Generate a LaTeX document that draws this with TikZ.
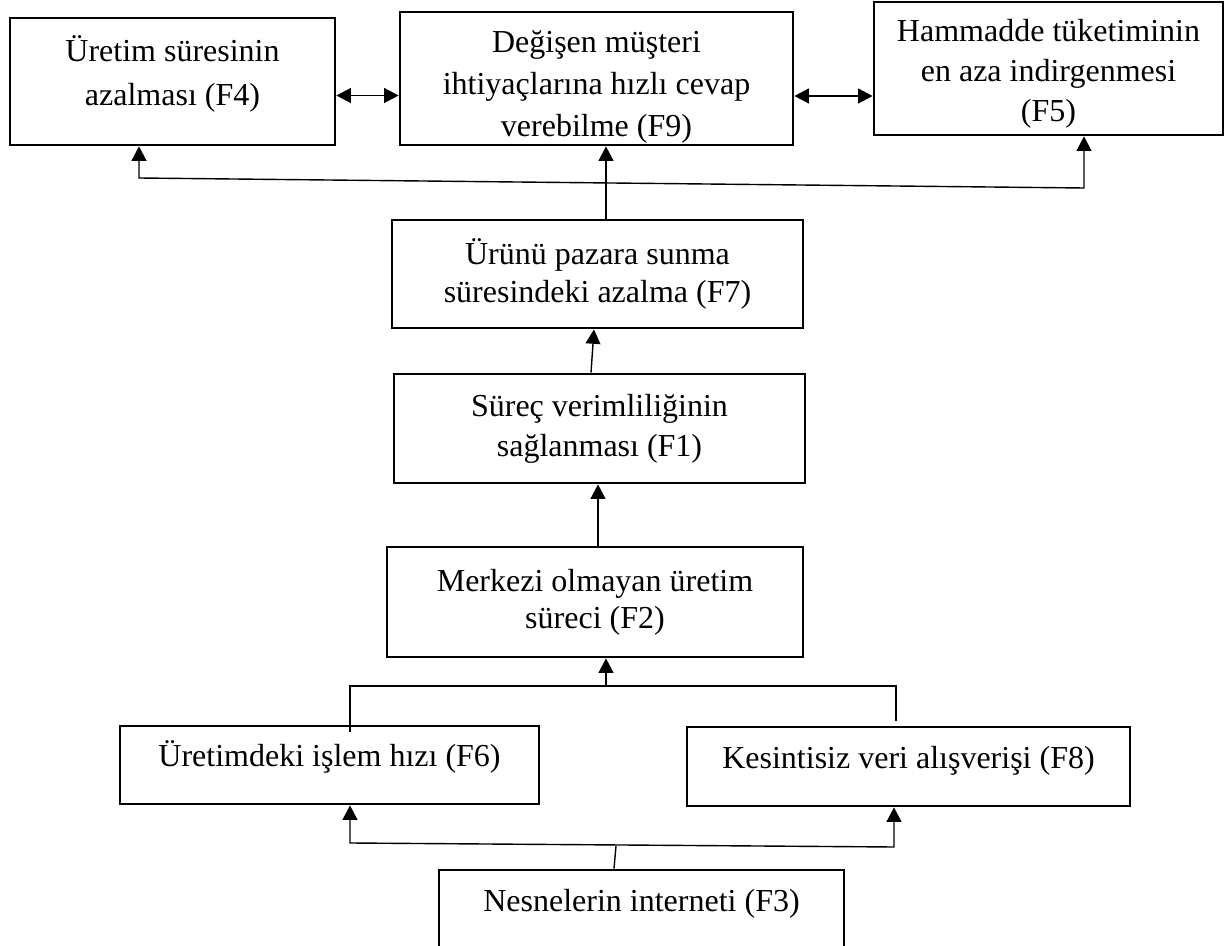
\documentclass[tikz,border=0pt]{standalone}
\usepackage{fontspec}
\setmainfont{Liberation Serif}
\usetikzlibrary{arrows.meta,calc}
\newcommand{\topgap}[1]{\rule{0pt}{#1}}
\newcommand{\botgap}[1]{\rule[-#1]{0pt}{0pt}}
\tikzset{
  factor/.style={draw,line width=1.4pt,inner sep=0pt,align=center,font=\fontsize{16pt}{20pt}\selectfont},
  uptext/.style={text height=13pt,text depth=11.5pt},
  link/.style={line width=0.7pt,>={Triangle[length=7.2pt,width=7.4pt]}}
}

\begin{document}
\begin{tikzpicture}[x=0.5pt,y=-0.5pt]
\useasboundingbox (0,0) rectangle (1227,946);
\clip (0,0) rectangle (1227,946);
% top row
\node[factor,font=\fontsize{16pt}{22pt}\selectfont,minimum width=162.5pt,minimum height=63.5pt] (F4) at (172.5,81.5) {Üretim süresinin\\azalması (F4)\botgap{10.5pt}};
\node[factor,font=\fontsize{16pt}{21pt}\selectfont,minimum width=196.5pt,minimum height=66.5pt] (F9) at (596.5,78.5) {\topgap{19.4pt}Değişen müşteri\\ihtiyaçlarına hızlı cevap\\verebilme (F9)};
\node[factor,minimum width=174.5pt,minimum height=66.5pt] (F5) at (1048.5,68.5) {\topgap{16.9pt}Hammadde tüketiminin\\en aza indirgenmesi\\(F5)};
% middle column
\node[factor,font=\fontsize{16pt}{19pt}\selectfont,minimum width=205.5pt,minimum height=54pt] (F7) at (597.5,274) {Ürünü pazara sunma\\süresindeki azalma (F7)};
\node[factor,minimum width=205.5pt,minimum height=54.5pt] (F1) at (599.5,428.5) {Süreç verimliliğinin\\sağlanması (F1)};
\node[factor,font=\fontsize{16pt}{18.5pt}\selectfont,minimum width=208pt,minimum height=55pt] (F2) at (595,602) {Merkezi olmayan üretim\\süreci (F2)};
% bottom
\node[factor,uptext,minimum width=209.5pt,minimum height=39pt] (F6) at (329.5,765) {Üretimdeki işlem hızı (F6)};
\node[factor,uptext,minimum width=221.5pt,minimum height=39.5pt] (F8) at (908.5,766.5) {Kesintisiz veri alışverişi (F8)};
\node[factor,uptext,minimum width=202.5pt,minimum height=40pt] (F3) at (641.5,910) {Nesnelerin interneti (F3)};

\coordinate (topL) at (139,178);
\coordinate (topR) at (1084,188);
\coordinate (midL) at (350,686);
\coordinate (midC) at (606,686);
\coordinate (midR) at (896,686);
\coordinate (botL) at (350,843);
\coordinate (botC) at (616,846);
\coordinate (botR) at (894,847);

\draw[link,<->] ([yshift=-7pt]F4.east) -- ([yshift=-7pt]F4.east -| F9.west);
\draw[link,<->] ([yshift=-8.75pt]F9.east) -- ([yshift=-8.75pt]F9.east -| F5.west);
\draw[link,<->] (topL |- F4.south) -- (topL) -- (topR) -- (topR |- F5.south);
\draw[link,->] ([xshift=4.25pt]F7.north) -- ([xshift=4.25pt]F7.north |- F9.south);
\draw[link,->] ([xshift=-4.25pt]F1.north) -- ([xshift=-1.75pt]F7.south);
\draw[link,->] ([xshift=1.5pt]F2.north) -- ([xshift=1.5pt]F2.north |- F1.south);
\draw[link] ($(F6.north -| midL)+(0,7)$) -- (midL) -- (midR) -- ($(F8.north -| midR)+(0,-5)$);
\draw[link,->] (midC) -- (midC |- F2.south);
\draw[link,<->] (botL |- F6.south) -- (botL) -- (botR) -- (botR |- F8.south);
\draw[link] ([xshift=-13.75pt]F3.north) -- (botC);
\end{tikzpicture}
\end{document}
